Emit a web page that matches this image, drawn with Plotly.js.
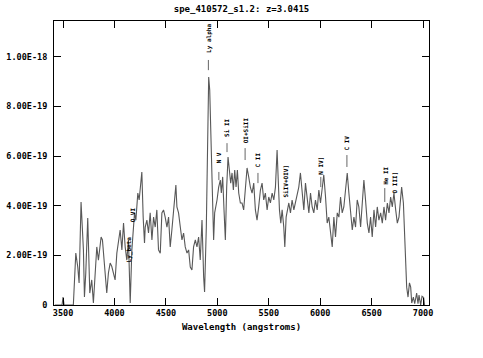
<!DOCTYPE html>
<html><head><meta charset="utf-8">
<script src="https://cdn.plot.ly/plotly-3.0.1.min.js"></script>
<style>html,body{margin:0;padding:0;background:#fff}#chart{width:483px;height:358px}</style>
</head><body><div id="chart"></div>
<script>
// Wavelength (angstroms)
const wavelength = [3420,3490,3500,3510,3588,3600,3624,3643,3656,3675,3698,3708,3721,3740,3760,3779,3795,3812,3828,3844,3870,3883,3909,3925,3941,3958,3974,3990,4006,4023,4039,4055,4072,4088,4104,4120,4136,4153,4169,4195,4208,4227,4240,4266,4279,4292,
4299,4315,4331,4347,4364,4380,4396,4412,4428,4445,4461,4477,4493,4510,4526,4542,4558,4575,4597,4607,4623,4640,4656,4672,4688,4705,4721,4737,4753,4769,4786,4802,4818,4834,4851,4867,4876,4893,4906,4916,4926,4942,4955,4964,4974,4987,4997,5013,5029,5039,5052,5065,5078,5091,5104,5117,5130,5143,5156,5169,5182,5195,5208,5224,
5240,5256,5273,5289,5305,5321,5338,5354,5370,5386,5402,5419,5435,5451,5467,5484,5500,5516,5533,5549,5565,5581,5591,5604,5617,5630,5646,5656,5669,5682,5695,5711,5727,5744,5760,5776,5792,5808,5825,5841,5857,5874,5890,5906,5922,5938,5954,5971,5987,6003,6019,6035,6052,6068,6084,6100,6117,6133,
6149,6166,6182,6198,6214,6230,6247,6263,6279,6295,6312,6328,6344,6360,6376,6393,6409,6425,6441,6458,6474,6490,6506,6523,6539,6555,6571,6588,6604,6620,6636,6653,6669,6685,6701,6717,6734,6750,6766,6782,6792,6809,6822,6831,6841,6854,6868,6880,6890,6906,6919,6938,6951,6961,6977,6990,7006,7015];
// Flux in units of 1e-19
const flux = [0,0,0.32,0,0,0,2.09,1.53,0.89,4.15,2.22,0.32,1.29,3.50,0.48,1.01,0.08,1.29,2.34,1.81,2.74,2.62,1.13,0.48,1.29,1.69,1.55,1.29,1.01,2.09,2.62,3.02,2.22,3.30,2.34,1.81,2.62,0.08,2.22,3.71,3.42,4.51,4.23,5.36,3.54,2.50,
3.14,3.42,2.90,3.71,2.62,3.54,3.14,3.83,2.22,2.09,3.71,3.83,3.54,3.14,3.54,2.34,3.02,3.95,4.83,3.95,3.71,3.14,2.62,2.90,2.34,2.09,2.22,1.53,1.41,2.34,2.62,2.34,2.74,1.81,3.42,1.13,0.52,3.14,7.17,9.18,8.66,5.84,4.23,2.62,3.71,3.95,4.23,4.75,5.03,4.51,5.16,3.83,2.62,4.75,5.96,5.44,4.91,5.32,4.63,5.44,4.75,5.44,4.51,4.11,
4.11,3.83,4.91,5.52,5.16,4.75,4.51,4.91,3.83,3.42,3.95,4.63,4.91,4.23,4.51,3.83,4.35,4.11,4.51,4.23,4.75,6.24,5.16,3.83,3.30,3.83,3.14,2.34,3.54,3.83,4.11,3.71,4.23,3.83,4.11,4.35,4.75,5.32,4.51,3.83,4.91,4.35,3.71,4.51,3.95,3.71,4.23,3.83,4.63,4.11,4.75,5.24,4.35,3.30,3.54,2.90,2.34,3.54,
2.74,3.71,3.54,4.35,3.71,3.95,4.75,5.32,4.51,3.83,3.02,3.54,3.14,4.23,3.95,3.14,4.23,5.03,4.23,3.30,2.90,3.54,2.74,3.83,3.14,3.95,3.42,3.71,3.30,3.95,3.42,4.11,3.71,4.35,3.95,4.51,3.83,3.30,3.54,4.51,4.75,4.11,2.62,1.29,0.72,0.32,0.89,0.72,0.08,0.32,0.05,0.48,0.05,0.40,0,0.35,0.30,0];

// Emission line identifications (observed wavelength at z=3.0415)
const lineNames = ["Ly_beta","O VI","Ly alpha","N V","Si II","OI+SiII","C II","SiIV+OIV]","N IV]","C IV","He II","O III]"];
const lineWave  = [4145,4178,4913,5015,5094,5270,5395,5658,6006,6260,6628,6721];
const labelBase = [1.73,3.34,10.15,5.72,6.77,6.52,5.56,4.31,5.24,6.24,4.83,4.51];
const markLow   = [null,null,9.46,5.03,6.16,5.84,4.91,null,4.75,5.56,4.15,null];
const markHigh  = [null,null,9.87,5.36,6.52,6.32,5.32,null,5.16,6.04,4.71,null];

const yTickVals = [0,2,4,6,8,10];
const yTickText = ["0","2.00E-19","4.00E-19","6.00E-19","8.00E-19","1.00E-18"];
const xTickVals = [3500,4000,4500,5000,5500,6000,6500,7000];

const mx = [], my = [];
lineWave.forEach((w,i)=>{ if(markLow[i]!==null){ mx.push(w,w,null); my.push(markLow[i],markHigh[i],null);} });

const F = "DejaVu Sans Mono";
const traces = [
  {x: wavelength, y: flux, type:'scatter', mode:'lines', line:{color:'#585858', width:1.1}, hoverinfo:'skip'},
  {x: mx, y: my, type:'scatter', mode:'lines', line:{color:'#666', width:1}, hoverinfo:'skip'}
];
const annotations = lineNames.map((n,i)=>({
  x: lineWave[i], y: labelBase[i], xref:'x', yref:'y', text:n, showarrow:false,
  textangle:-90, yanchor:'bottom', xanchor:'center', borderpad:0, borderwidth:0,
  font:{family:F, size:6, color:'#000', weight:'bold'}
}));

const layout = {
  width:483, height:358,
  margin:{l:54, r:54, t:21, b:53},
  paper_bgcolor:'#fff', plot_bgcolor:'#fff',
  showlegend:false,
  title:{text:'spe_410572_s1.2: z=3.0415', x:0.5, xanchor:'center', xref:'container', y:1-9/358, yref:'container', yanchor:'middle', font:{family:F, size:9, color:'#000', weight:'bold'}},
  xaxis:{range:[3412,7058], tickvals:xTickVals, ticks:'inside', ticklen:7, tickcolor:'#000', showline:true, linecolor:'#000', linewidth:1, mirror:'ticks', showgrid:false, zeroline:false,
    tickfont:{family:F, size:8.5, color:'#000', weight:'bold'},
    title:{text:'Wavelength (angstroms)', font:{family:F, size:9, color:'#000', weight:'bold'}, standoff:6}},
  yaxis:{range:[0,11.44], tickvals:yTickVals, ticktext:yTickText, ticks:'inside', ticklen:7, tickcolor:'#000', showline:true, linecolor:'#000', linewidth:1, mirror:'ticks', showgrid:false, zeroline:false,
    tickfont:{family:F, size:8.5, color:'#000', weight:'bold'}, ticklabelstandoff:4},
  annotations: annotations
};
Plotly.newPlot('chart', traces, layout, {staticPlot:true, displayModeBar:false});
</script></body></html>
